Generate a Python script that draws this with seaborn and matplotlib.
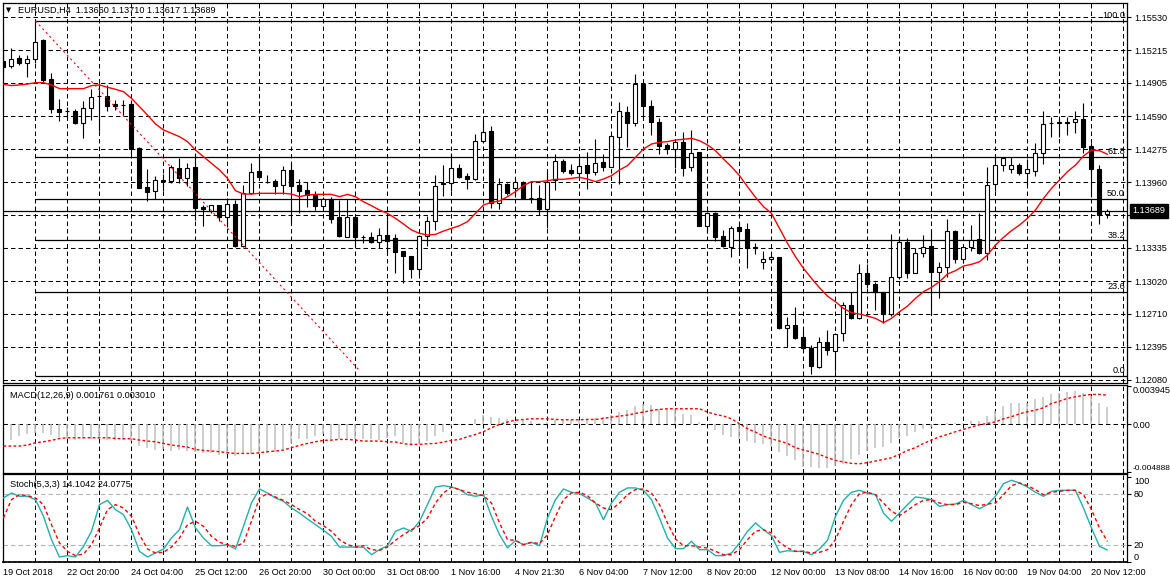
import numpy as np
import pandas as pd
import matplotlib
matplotlib.use("Agg")
import matplotlib.pyplot as plt
import matplotlib.transforms as mtransforms
import seaborn as sns

# ---------------- data ----------------
opens = [
1.15114, 1.15066, 1.15140, 1.15092, 1.15130, 1.15315, 1.14943, 1.14657, 1.14641, 1.14638,
1.14527, 1.14664, 1.14778, 1.14781, 1.14702, 1.14696, 1.14702, 1.14290, 1.13911, 1.13877,
1.13979, 1.13975, 1.14093, 1.13998, 1.14102, 1.13724, 1.13689, 1.13743, 1.13632, 1.13753,
1.13353, 1.13861, 1.14067, 1.13966, 1.13972, 1.13931, 1.14073, 1.13931, 1.13883, 1.13842,
1.13737, 1.13804, 1.13629, 1.13442, 1.13626, 1.13442, 1.13436, 1.13388, 1.13455, 1.13426,
1.13303, 1.13258, 1.13132, 1.13452, 1.13588, 1.13956, 1.13950, 1.14093, 1.14020, 1.13988,
1.14356, 1.14448, 1.13759, 1.13944, 1.13902, 1.13966, 1.13813, 1.13807, 1.13702, 1.13982,
1.14166, 1.14073, 1.14045, 1.14121, 1.14054, 1.14150, 1.14108, 1.14394, 1.14632, 1.14521,
1.14892, 1.14689, 1.14531, 1.14315, 1.14274, 1.14340, 1.14102, 1.14245, 1.13547, 1.13664,
1.13449, 1.13347, 1.13531, 1.13512, 1.13341, 1.13204, 1.13227, 1.13246, 1.12570, 1.12601,
1.12484, 1.12386, 1.12205, 1.12436, 1.12354, 1.12522, 1.12792, 1.12665, 1.13100, 1.12988,
1.12919, 1.12706, 1.13062, 1.13388, 1.13100, 1.13284, 1.13353, 1.13109, 1.13157, 1.13496,
1.13227, 1.13341, 1.13417, 1.13284, 1.13941, 1.14124, 1.14083, 1.14124, 1.14045, 1.14070,
1.14235, 1.14524, 1.14527, 1.14530, 1.14530, 1.14562, 1.14306, 1.14083, 1.13660]

highs = [
1.15330, 1.15235, 1.15171, 1.15171, 1.15495, 1.15324, 1.15003, 1.14753, 1.14673, 1.14654,
1.14737, 1.14845, 1.14902, 1.14886, 1.14743, 1.14743, 1.14743, 1.14299, 1.14083, 1.14023,
1.14036, 1.14124, 1.14188, 1.14146, 1.14235, 1.13743, 1.13746, 1.13743, 1.13807, 1.13791,
1.13934, 1.14140, 1.14204, 1.14029, 1.13991, 1.14115, 1.14140, 1.13988, 1.13966, 1.13877,
1.13823, 1.13823, 1.13791, 1.13801, 1.13639, 1.13458, 1.13483, 1.13521, 1.13626, 1.13464,
1.13309, 1.13258, 1.13455, 1.13639, 1.14029, 1.14124, 1.14235, 1.14134, 1.14051, 1.14420,
1.14553, 1.14496, 1.13998, 1.13956, 1.13998, 1.13972, 1.13966, 1.13934, 1.14070, 1.14229,
1.14178, 1.14131, 1.14188, 1.14245, 1.14369, 1.14229, 1.14410, 1.14721, 1.14689, 1.14991,
1.14918, 1.14743, 1.14568, 1.14337, 1.14363, 1.14436, 1.14458, 1.14251, 1.13674, 1.13674,
1.13506, 1.13547, 1.13579, 1.13569, 1.13379, 1.13306, 1.13299, 1.13252, 1.12674, 1.12769,
1.12554, 1.12411, 1.12484, 1.12554, 1.12522, 1.12823, 1.12919, 1.13179, 1.13179, 1.13014,
1.12919, 1.13464, 1.13426, 1.13426, 1.13338, 1.13458, 1.13506, 1.13204, 1.13610, 1.13506,
1.13347, 1.13553, 1.13664, 1.14108, 1.14197, 1.14204, 1.14204, 1.14140, 1.14181, 1.14331,
1.14638, 1.14578, 1.14568, 1.14578, 1.14638, 1.14718, 1.14331, 1.14124, 1.13710]

lows = [
1.15006, 1.15044, 1.15076, 1.14965, 1.15092, 1.14908, 1.14616, 1.14546, 1.14568, 1.14514,
1.14378, 1.14553, 1.14451, 1.14641, 1.14648, 1.14600, 1.14229, 1.13902, 1.13781, 1.13797,
1.13880, 1.13957, 1.13957, 1.13925, 1.13601, 1.13544, 1.13664, 1.13594, 1.13537, 1.13347,
1.13347, 1.13848, 1.13998, 1.13950, 1.13848, 1.13848, 1.13585, 1.13664, 1.13727, 1.13696,
1.13702, 1.13569, 1.13442, 1.13436, 1.13353, 1.13385, 1.13379, 1.13331, 1.13290, 1.13093,
1.13005, 1.13052, 1.13078, 1.13356, 1.13506, 1.13832, 1.13880, 1.13998, 1.13899, 1.13982,
1.14347, 1.13712, 1.13702, 1.13839, 1.13823, 1.13801, 1.13766, 1.13648, 1.13521, 1.13886,
1.14051, 1.14029, 1.13998, 1.13896, 1.14029, 1.14070, 1.14102, 1.13940, 1.14299, 1.14499,
1.14578, 1.14410, 1.14229, 1.14229, 1.14093, 1.14020, 1.14070, 1.13544, 1.13474, 1.13401,
1.13341, 1.13252, 1.13293, 1.13147, 1.13277, 1.13132, 1.13220, 1.12563, 1.12388, 1.12468,
1.12373, 1.12135, 1.12195, 1.12315, 1.12167, 1.12452, 1.12655, 1.12655, 1.12957, 1.12744,
1.12624, 1.12690, 1.13036, 1.13052, 1.13093, 1.13246, 1.12697, 1.12855, 1.13055, 1.13188,
1.13188, 1.13309, 1.13277, 1.13220, 1.13880, 1.14070, 1.14051, 1.14029, 1.13934, 1.14023,
1.14134, 1.14394, 1.14394, 1.14410, 1.14432, 1.14235, 1.13823, 1.13563, 1.13617]

closes = [
1.15060, 1.15130, 1.15092, 1.15130, 1.15299, 1.14933, 1.14654, 1.14632, 1.14638, 1.14527,
1.14664, 1.14775, 1.14781, 1.14686, 1.14686, 1.14692, 1.14277, 1.13908, 1.13870, 1.13982,
1.13975, 1.14108, 1.13998, 1.14093, 1.13718, 1.13702, 1.13740, 1.13632, 1.13753, 1.13353,
1.13861, 1.14061, 1.14013, 1.13963, 1.13928, 1.14073, 1.13928, 1.13880, 1.13835, 1.13737,
1.13804, 1.13613, 1.13452, 1.13626, 1.13442, 1.13439, 1.13388, 1.13455, 1.13404, 1.13293,
1.13261, 1.13132, 1.13445, 1.13588, 1.13928, 1.13941, 1.14093, 1.14013, 1.13988, 1.14356,
1.14442, 1.13759, 1.13944, 1.13854, 1.13960, 1.13807, 1.13810, 1.13702, 1.13966, 1.14166,
1.14070, 1.14045, 1.14118, 1.14051, 1.14146, 1.14108, 1.14401, 1.14641, 1.14521, 1.14892,
1.14689, 1.14531, 1.14309, 1.14274, 1.14340, 1.14093, 1.14242, 1.13547, 1.13664, 1.13442,
1.13356, 1.13521, 1.13499, 1.13331, 1.13338, 1.13227, 1.13249, 1.12570, 1.12601, 1.12481,
1.12379, 1.12214, 1.12436, 1.12363, 1.12512, 1.12792, 1.12665, 1.13093, 1.12988, 1.12912,
1.12706, 1.13062, 1.13388, 1.13100, 1.13284, 1.13341, 1.13109, 1.13157, 1.13496, 1.13227,
1.13341, 1.13410, 1.13284, 1.13934, 1.14124, 1.14188, 1.14124, 1.14045, 1.14083, 1.14235,
1.14511, 1.14527, 1.14530, 1.14527, 1.14559, 1.14299, 1.14083, 1.13648, 1.13689]

moving_avg = [
1.14892, 1.14880, 1.14886, 1.14895, 1.14908, 1.14908, 1.14886, 1.14851, 1.14851, 1.14851,
1.14851, 1.14880, 1.14886, 1.14864, 1.14845, 1.14822, 1.14759, 1.14680, 1.14600, 1.14515,
1.14458, 1.14426, 1.14394, 1.14347, 1.14267, 1.14204, 1.14140, 1.14077, 1.13998, 1.13880,
1.13848, 1.13848, 1.13855, 1.13855, 1.13855, 1.13855, 1.13848, 1.13823, 1.13839, 1.13845,
1.13845, 1.13845, 1.13823, 1.13845, 1.13823, 1.13775, 1.13737, 1.13696, 1.13664, 1.13617,
1.13563, 1.13506, 1.13474, 1.13458, 1.13464, 1.13496, 1.13521, 1.13547, 1.13585, 1.13664,
1.13744, 1.13769, 1.13782, 1.13823, 1.13871, 1.13928, 1.13966, 1.13966, 1.13975, 1.13988,
1.13988, 1.13998, 1.14007, 1.13991, 1.13966, 1.13991, 1.14023, 1.14077, 1.14118, 1.14197,
1.14277, 1.14324, 1.14340, 1.14347, 1.14362, 1.14369, 1.14378, 1.14356, 1.14315, 1.14261,
1.14182, 1.14108, 1.14023, 1.13918, 1.13817, 1.13728, 1.13664, 1.13521, 1.13379, 1.13252,
1.13141, 1.13046, 1.12957, 1.12877, 1.12823, 1.12760, 1.12719, 1.12706, 1.12687, 1.12665,
1.12624, 1.12665, 1.12728, 1.12782, 1.12855, 1.12919, 1.12960, 1.13014, 1.13087, 1.13119,
1.13163, 1.13179, 1.13204, 1.13268, 1.13363, 1.13436, 1.13499, 1.13553, 1.13617, 1.13696,
1.13807, 1.13902, 1.13982, 1.14061, 1.14124, 1.14210, 1.14267, 1.14261, 1.14226]

macd_main = [
-0.00188, -0.00164, -0.00120, -0.00103, -0.00092, -0.00086, -0.00113, -0.00127, -0.00154, -0.00164,
-0.00154, -0.00147, -0.00154, -0.00161, -0.00164, -0.00164, -0.00171, -0.00222, -0.00246, -0.00263,
-0.00257, -0.00274, -0.00267, -0.00274, -0.00284, -0.00298, -0.00298, -0.00318, -0.00308, -0.00325,
-0.00308, -0.00308, -0.00308, -0.00291, -0.00284, -0.00250, -0.00188, -0.00154, -0.00147, -0.00120,
-0.00103, -0.00154, -0.00147, -0.00137, -0.00147, -0.00147, -0.00154, -0.00164, -0.00137, -0.00120,
-0.00188, -0.00222, -0.00205, -0.00171, -0.00120, -0.00079, -0.00017, -0.00002, 0.00001, 0.00051,
0.00092, 0.00075, 0.00062, 0.00051, 0.00024, 0.00044, 0.00034, 0.00010, 0.00024, 0.00044,
0.00044, 0.00044, 0.00044, 0.00058, 0.00068, 0.00075, 0.00092, 0.00130, 0.00144, 0.00188,
0.00205, 0.00195, 0.00161, 0.00154, 0.00154, 0.00103, 0.00092, 0.00024, 0.00000, -0.00058,
-0.00113, -0.00127, -0.00147, -0.00171, -0.00195, -0.00205, -0.00222, -0.00284, -0.00325, -0.00366,
-0.00434, -0.00434, -0.00445, -0.00445, -0.00428, -0.00410, -0.00359, -0.00318, -0.00274, -0.00239,
-0.00233, -0.00188, -0.00137, -0.00120, -0.00079, -0.00051, -0.00024, -0.00010, 0.00010, 0.00015,
0.00015, 0.00034, 0.00034, 0.00086, 0.00137, 0.00188, 0.00215, 0.00222, 0.00215, 0.00257,
0.00284, 0.00308, 0.00325, 0.00332, 0.00342, 0.00318, 0.00291, 0.00215, 0.001761]

macd_signal = [
-0.00222, -0.00222, -0.00222, -0.00212, -0.00188, -0.00178, -0.00164, -0.00144, -0.00137, -0.00137,
-0.00137, -0.00137, -0.00137, -0.00137, -0.00144, -0.00147, -0.00147, -0.00161, -0.00171, -0.00178,
-0.00195, -0.00212, -0.00222, -0.00233, -0.00257, -0.00267, -0.00274, -0.00280, -0.00291, -0.00298,
-0.00298, -0.00298, -0.00291, -0.00280, -0.00274, -0.00263, -0.00239, -0.00215, -0.00195, -0.00178,
-0.00164, -0.00161, -0.00154, -0.00154, -0.00161, -0.00171, -0.00171, -0.00171, -0.00178, -0.00181,
-0.00198, -0.00205, -0.00205, -0.00198, -0.00195, -0.00181, -0.00164, -0.00154, -0.00127, -0.00103,
-0.00075, -0.00034, 0.00000, 0.00024, 0.00044, 0.00051, 0.00058, 0.00058, 0.00058, 0.00051,
0.00048, 0.00048, 0.00048, 0.00051, 0.00051, 0.00062, 0.00075, 0.00086, 0.00096, 0.00113,
0.00127, 0.00144, 0.00154, 0.00161, 0.00161, 0.00161, 0.00161, 0.00161, 0.00127, 0.00103,
0.00086, 0.00058, 0.00007, -0.00044, -0.00079, -0.00120, -0.00147, -0.00171, -0.00195, -0.00239,
-0.00263, -0.00284, -0.00308, -0.00342, -0.00369, -0.00386, -0.00400, -0.00404, -0.00393, -0.00376,
-0.00359, -0.00342, -0.00308, -0.00267, -0.00239, -0.00195, -0.00161, -0.00127, -0.00103, -0.00075,
-0.00051, -0.00027, -0.00003, 0.00010, 0.00027, 0.00058, 0.00079, 0.00109, 0.00130, 0.00147,
0.00171, 0.00215, 0.00239, 0.00267, 0.00284, 0.00298, 0.00308, 0.00308, 0.003010]

stoch_k = [
75.3, 81.2, 77.3, 77.3, 73.3, 53.7, 26.3, 5.9, 7.5, 5.9,
18.4, 36.1, 67.5, 72.5, 61.6, 55.7, 38.0, 12.5, 5.9, 10.6,
15.3, 28.2, 38.0, 64.7, 40.0, 28.2, 19.2, 19.2, 20.4, 15.3,
42.0, 69.4, 85.9, 81.2, 75.3, 71.4, 63.5, 57.6, 50.6, 43.9,
37.3, 30.2, 17.6, 17.6, 17.6, 17.3, 8.6, 14.5, 19.2, 36.1,
40.0, 36.1, 47.8, 67.5, 88.2, 89.8, 88.2, 85.1, 79.2, 77.3,
79.2, 53.7, 32.2, 16.5, 25.1, 20.4, 23.1, 19.2, 51.8, 73.3,
85.9, 82.0, 80.4, 75.3, 69.4, 49.8, 69.4, 82.0, 87.1, 87.1,
84.3, 73.3, 51.8, 28.2, 15.7, 15.7, 24.3, 14.5, 14.5, 7.5,
7.5, 10.6, 22.4, 36.1, 45.9, 38.0, 31.0, 11.4, 13.3, 12.5,
12.5, 8.6, 15.3, 25.5, 53.7, 72.5, 82.0, 84.3, 81.2, 79.2,
57.6, 47.8, 57.6, 67.5, 76.5, 75.3, 73.3, 65.5, 67.5, 68.2,
72.5, 67.5, 62.7, 67.5, 77.3, 92.2, 96.1, 92.9, 88.2, 82.0,
77.3, 83.1, 84.3, 84.3, 84.3, 63.5, 40.0, 18.4, 14.1042]

stoch_d = [
51.8, 73.3, 79.2, 78.0, 75.3, 67.5, 43.9, 22.4, 12.5, 7.5,
9.4, 20.4, 40.0, 61.6, 67.5, 63.5, 53.7, 32.2, 15.3, 10.6,
11.4, 17.6, 28.2, 43.9, 47.8, 42.0, 30.2, 23.1, 20.4, 18.4,
22.4, 47.8, 75.3, 80.4, 76.5, 72.5, 67.5, 61.6, 56.9, 47.8,
42.7, 36.1, 26.3, 20.4, 17.6, 19.2, 14.5, 13.7, 17.6, 25.5,
32.2, 38.0, 42.7, 51.8, 69.4, 81.2, 88.2, 85.1, 82.0, 80.4,
78.0, 69.4, 45.9, 26.3, 25.5, 20.4, 23.1, 21.6, 32.2, 53.7,
73.3, 81.2, 82.0, 78.0, 69.4, 63.5, 61.6, 69.4, 79.2, 85.1,
85.9, 81.2, 67.5, 45.9, 27.1, 19.2, 19.2, 17.6, 16.5, 12.5,
8.6, 8.6, 14.5, 26.3, 36.1, 38.0, 34.1, 23.1, 16.5, 12.5,
12.5, 10.6, 11.4, 14.5, 26.3, 47.8, 67.5, 80.4, 82.0, 79.2,
69.4, 59.6, 54.5, 60.8, 67.5, 72.5, 73.3, 69.4, 67.5, 67.5,
70.2, 68.6, 66.3, 68.2, 69.4, 79.2, 89.8, 92.9, 89.8, 85.1,
79.2, 82.0, 83.1, 84.3, 84.3, 79.2, 61.6, 40.0, 24.0775]

price_ticks = [1.15530, 1.15215, 1.14905, 1.14590, 1.14275, 1.13960, 1.13650,
               1.13335, 1.13020, 1.12710, 1.12395, 1.12080]
price_tick_labels = ["1.15530", "1.15215", "1.14905", "1.14590", "1.14275", "1.13960",
                     "", "1.13335", "1.13020", "1.12710", "1.12395", "1.12080"]
fib_high = 1.15495
fib_low = 1.12116
fib_levels = [100.0, 61.8, 50.0, 38.2, 23.6, 0.0]
fib_labels = ["100.0", "61.8", "50.0", "38.2", "23.6", "0.0"]
fib_anchor_x = [4, 44.6]
fib_anchor_y = [1.15495, 1.12160]
last_price = 1.13689
date_pos = [-0.06, 8, 16, 24, 32, 40, 48, 56, 64, 72, 80, 88, 96, 104, 112, 120, 128, 136]
date_labels = ["19 Oct 2018", "22 Oct 20:00", "24 Oct 04:00", "25 Oct 12:00", "26 Oct 20:00",
               "30 Oct 00:00", "31 Oct 08:00", "1 Nov 16:00", "4 Nov 21:30", "6 Nov 04:00",
               "7 Nov 12:00", "8 Nov 20:00", "12 Nov 00:00", "13 Nov 08:00", "14 Nov 16:00",
               "16 Nov 00:00", "19 Nov 04:00", "20 Nov 12:00"]
header = "EURUSD,H4  1.13660 1.13710 1.13617 1.13689"
macd_title = "MACD(12,26,9) 0.001761 0.003010"
stoch_title = "Stoch(5,3,3) 14.1042 24.0775"

# ---------------- styling ----------------
sns.set_style("white")
plt.rcParams['font.family'] = ['Liberation Sans', 'DejaVu Sans']
plt.rcParams['lines.scale_dashes'] = False
FS = 6.6

W, H = 1170, 584
fig = plt.figure(figsize=(W / 100, H / 100), dpi=100)
fig.patch.set_facecolor("white")


def rect(x0, y0, x1, y1):
    return [x0 / W, 1 - y1 / H, (x1 - x0) / W, (y1 - y0) / H]


ax = fig.add_axes(rect(3, 3, 1127, 383))
axm = fig.add_axes(rect(3, 385, 1127, 473), sharex=ax)
axs = fig.add_axes(rect(3, 474, 1127, 562), sharex=ax)

n = len(closes)
df = pd.DataFrame({"i": np.arange(n), "open": opens, "high": highs, "low": lows,
                   "close": closes, "ma": moving_avg, "macd": macd_main,
                   "signal": macd_signal, "k": stoch_k, "d": stoch_d})

GRID = dict(color="black", lw=0.75, ls=(0, (3.2, 2.2)), zorder=0.5)
for a in (ax, axm, axs):
    a.set_facecolor("white")
    for s in a.spines.values():
        s.set_color("black")
        s.set_linewidth(0.9)
    for gx in range(4, 141, 4):
        a.axvline(gx, **GRID)
axs.spines["bottom"].set_linestyle((0, (2.2, 1.4)))
axs.spines["bottom"].set_linewidth(1.3)

ax.set_xlim(-0.06, 140.44)

# ---- main price panel ----
for p in price_ticks:
    ax.axhline(p, **GRID)

ax.vlines(df["i"], df["low"], df["high"], color="black", lw=0.8, zorder=2)
body_bottom = np.minimum(df["open"], df["close"])
body_h = np.maximum(np.abs(df["close"] - df["open"]), 0.000012)
fill = np.where(df["close"] >= df["open"], "white", "black")
ax.bar(df["i"], body_h, bottom=body_bottom, width=0.5, color=fill,
       edgecolor="black", linewidth=0.8, zorder=3)

sns.lineplot(data=df, x="i", y="ma", ax=ax, color="red", lw=1.0,
             estimator=None, sort=False, zorder=4)

# fibonacci retracement
blend_main = mtransforms.blended_transform_factory(ax.transAxes, ax.transData)
for lev, lab in zip(fib_levels, fib_labels):
    price = fib_low + (fib_high - fib_low) * lev / 100.0
    ax.hlines(price, fib_anchor_x[0], 141, color="black", lw=0.9, zorder=1.5)
    ax.annotate(lab, xy=(1.0, price), xycoords=blend_main, xytext=(-1.5, 0.6),
                textcoords="offset points", ha="right", va="bottom",
                fontsize=FS, color="black", zorder=6)
ax.plot(fib_anchor_x, fib_anchor_y, color="red", lw=0.8, ls=(0, (1.5, 2.2)), zorder=4)

ax.axhline(last_price, color="black", lw=0.9, zorder=1.6)

ax.set_ylim(1.12050, 1.15666)
ax.yaxis.tick_right()
ax.set_yticks(price_ticks)
ax.set_yticklabels(price_tick_labels)
ax.tick_params(axis="y", direction="out", length=3, width=0.8, pad=2,
               labelsize=FS, colors="black")
ax.tick_params(axis="x", length=0, labelbottom=False)
ax.set_xlabel("")
ax.set_ylabel("")
ax.annotate("1.13689", xy=(1.0, last_price), xycoords=blend_main, xytext=(4.2, 0),
            textcoords="offset points", ha="left", va="center",
            fontsize=FS, color="white", annotation_clip=False, zorder=10,
            bbox=dict(boxstyle="square,pad=0.3", fc="black", ec="black"))

fig.text(9 / W, 1 - 10.5 / H, "\u25BC", fontsize=4.8, ha="center", va="center",
         color="black", family="DejaVu Sans")
fig.text(18 / W, 1 - 10.5 / H, header, fontsize=FS, ha="left", va="center", color="black")

# ---- MACD panel ----
axm.axhline(0, **GRID)
axm.vlines(df["i"], 0, df["macd"], color="#c0c0c0", lw=1.1, zorder=2)
sns.lineplot(data=df, x="i", y="signal", ax=axm, color="red", lw=1.0,
             ls=(0, (2.0, 1.6)), estimator=None, sort=False, zorder=3)
axm.set_ylim(-0.00499, 0.00405)
axm.yaxis.tick_right()
axm.set_yticks([0.003945, 0.0, -0.004888])
axm.set_yticklabels(["0.003945", "0.00", "-0.004888"])
axm.tick_params(axis="y", direction="out", length=3, width=0.8, pad=1.2,
                labelsize=FS, colors="black")
labs = axm.get_yticklabels()
labs[0].set_verticalalignment("top")
labs[2].set_verticalalignment("bottom")
labs[2].set_fontsize(6.0)
axm.tick_params(axis="x", length=0, labelbottom=False)
axm.set_xlabel("")
axm.set_ylabel("")
axm.text(7 / 1124, 0.88, macd_title, transform=axm.transAxes, fontsize=FS,
         ha="left", va="center", color="black")

# ---- Stochastic panel ----
for lv in (20, 80):
    axs.axhline(lv, color="#b4b4b4", lw=0.8, ls=(0, (3.2, 2.2)), zorder=0.6)
sns.lineplot(data=df, x="i", y="k", ax=axs, color="#20b2aa", lw=1.0,
             estimator=None, sort=False, zorder=3)
sns.lineplot(data=df, x="i", y="d", ax=axs, color="red", lw=1.0,
             ls=(0, (2.6, 2.0)), estimator=None, sort=False, zorder=3)
axs.set_ylim(0, 103.5)
axs.yaxis.tick_right()
axs.set_yticks([100, 80, 20, 0])
axs.set_yticklabels(["100", "80", "20", "0"])
axs.tick_params(axis="y", direction="out", length=3, width=0.8, pad=2,
                labelsize=FS, colors="black")
sl = axs.get_yticklabels()
sl[0].set_verticalalignment("top")
sl[3].set_verticalalignment("bottom")
axs.set_xticks(list(range(4, 141, 4)))
axs.tick_params(axis="x", direction="out", length=4, width=0.8, labelbottom=False)
axs.set_xlabel("")
axs.set_ylabel("")
axs.text(7 / 1124, 0.88, stoch_title, transform=axs.transAxes, fontsize=FS,
         ha="left", va="center", color="black")

blend_s = mtransforms.blended_transform_factory(axs.transData, axs.transAxes)
for xpos, lab in zip(date_pos, date_labels):
    axs.text(xpos, -0.115, lab, transform=blend_s, ha="left", va="center",
             fontsize=FS, color="black", clip_on=False)

ax.set_xlim(-0.06, 140.44)
fig.savefig("out.png", dpi=100)
